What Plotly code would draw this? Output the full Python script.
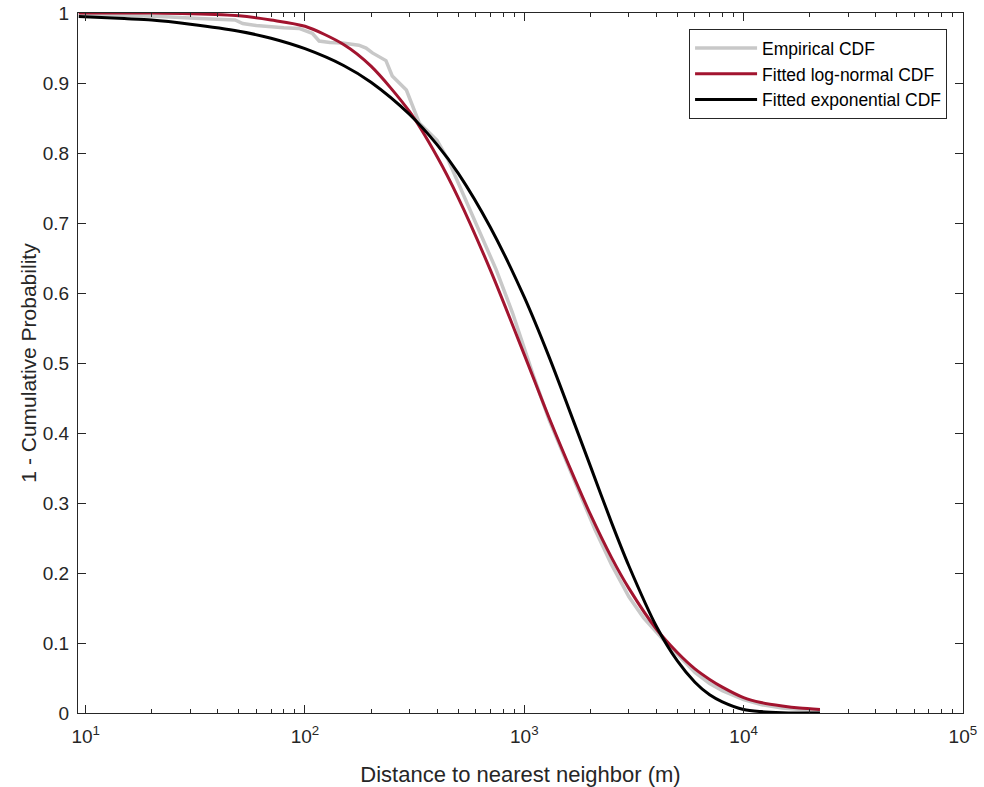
import plotly.graph_objects as go

# ---- data ----
emp_x = [9.3, 15, 22, 33, 48, 52, 60, 80, 94, 108, 116, 130, 148, 176, 190, 203,
         215, 234, 250, 270, 290, 332, 360, 400, 450, 520, 620, 745, 885, 1000,
         1100, 1300, 1500, 1800, 2100, 2500, 3000, 3500, 4300, 5000, 6000, 7000,
         8000, 10000, 12000, 15000, 18000, 22300]
emp_y = [0.999, 0.997, 0.995, 0.992, 0.990, 0.985, 0.982, 0.979, 0.978, 0.971,
         0.960, 0.958, 0.957, 0.954, 0.950, 0.943, 0.938, 0.932, 0.910, 0.900,
         0.890, 0.843, 0.832, 0.818, 0.790, 0.745, 0.690, 0.633, 0.571, 0.520,
         0.482, 0.418, 0.370, 0.312, 0.262, 0.212, 0.166, 0.136, 0.105, 0.084,
         0.058, 0.042, 0.032, 0.019, 0.012, 0.007, 0.005, 0.003]

fit_x = [9.3, 15, 20, 30, 50, 70, 100, 150, 200, 300, 400, 500, 700, 1000, 1300,
         1700, 2000, 2500, 3000, 4000, 5000, 6000, 7000, 8000, 10000, 12000,
         15000, 18000, 22300]
lognorm_y = [1.000, 1.000, 1.000, 0.999, 0.996, 0.990, 0.981, 0.955, 0.924,
             0.859, 0.795, 0.736, 0.633, 0.512, 0.421, 0.334, 0.284, 0.222,
             0.178, 0.120, 0.086, 0.063, 0.048, 0.037, 0.022, 0.015, 0.010,
             0.007, 0.005]
expo_y = [0.995, 0.992, 0.990, 0.984, 0.974, 0.964, 0.949, 0.925, 0.901, 0.855,
          0.812, 0.771, 0.694, 0.594, 0.508, 0.412, 0.353, 0.272, 0.210, 0.124,
          0.074, 0.044, 0.026, 0.016, 0.005, 0.002, 0.0005, 0.0001, 0.0]

series_names = ["Empirical CDF", "Fitted log-normal CDF", "Fitted exponential CDF"]
x_ticks = [10, 100, 1000, 10000, 100000]
x_tick_labels = ["10<sup>1</sup>", "10<sup>2</sup>", "10<sup>3</sup>", "10<sup>4</sup>", "10<sup>5</sup>"]
y_ticks = [0, 0.1, 0.2, 0.3, 0.4, 0.5, 0.6, 0.7, 0.8, 0.9, 1]
y_tick_labels = ["0", "0.1", "0.2", "0.3", "0.4", "0.5", "0.6", "0.7", "0.8", "0.9", "1"]

AX = "#262626"
FONT = "Liberation Sans, Arial, sans-serif"

fig = go.Figure()
fig.add_trace(go.Scatter(x=emp_x, y=emp_y, mode="lines", name=series_names[0],
                         line=dict(color="#c8c8c8", width=3.5)))
fig.add_trace(go.Scatter(x=fit_x, y=lognorm_y, mode="lines", name=series_names[1],
                         line=dict(color="#a2142f", width=3, shape="spline", smoothing=0.8)))
fig.add_trace(go.Scatter(x=fit_x, y=expo_y, mode="lines", name=series_names[2],
                         line=dict(color="#000000", width=3, shape="spline", smoothing=0.8)))

minor_vals = [m * 10 ** k for k in range(0, 5) for m in range(2, 10)]

fig.update_xaxes(
    type="log", range=[0.965, 5.0005], automargin=False,
    tickvals=x_ticks, ticktext=x_tick_labels, ticklabelstandoff=6,
    ticklabeloverflow="allow",
    ticks="inside", ticklen=8, tickwidth=1, tickcolor=AX,
    minor=dict(tickvals=minor_vals, ticks="inside", ticklen=4, tickcolor=AX, showgrid=False),
    showline=True, linecolor=AX, linewidth=1, mirror="ticks",
    showgrid=False, zeroline=False,
    tickfont=dict(family=FONT, size=19, color=AX),
    title=dict(text="Distance to nearest neighbor (m)", font=dict(family=FONT, size=22, color=AX),
               standoff=20),
)
fig.update_yaxes(
    range=[0, 1], tickvals=y_ticks, ticktext=y_tick_labels, automargin=False,
    ticklabelstandoff=4, ticklabeloverflow="allow",
    ticks="inside", ticklen=8, tickwidth=1, tickcolor=AX,
    showline=True, linecolor=AX, linewidth=1, mirror="ticks",
    showgrid=False, zeroline=False,
    tickfont=dict(family=FONT, size=19, color=AX),
    title=dict(text="1 - Cumulative Probability", font=dict(family=FONT, size=21, color=AX),
               standoff=0),
)
fig.update_layout(
    width=984, height=787,
    margin=dict(l=78, r=21, t=13, b=74),
    paper_bgcolor="white", plot_bgcolor="white",
    showlegend=True,
    legend=dict(x=0.982, y=0.977, xanchor="right", yanchor="top",
                bgcolor="white", bordercolor=AX, borderwidth=1,
                font=dict(family=FONT, size=17.5, color="#000000"),
                itemwidth=62, tracegroupgap=0),
)
fig.write_html("out.html", config={"displayModeBar": False, "staticPlot": True},
               post_script="document.body.style.margin='0';document.body.style.overflow='hidden';")
